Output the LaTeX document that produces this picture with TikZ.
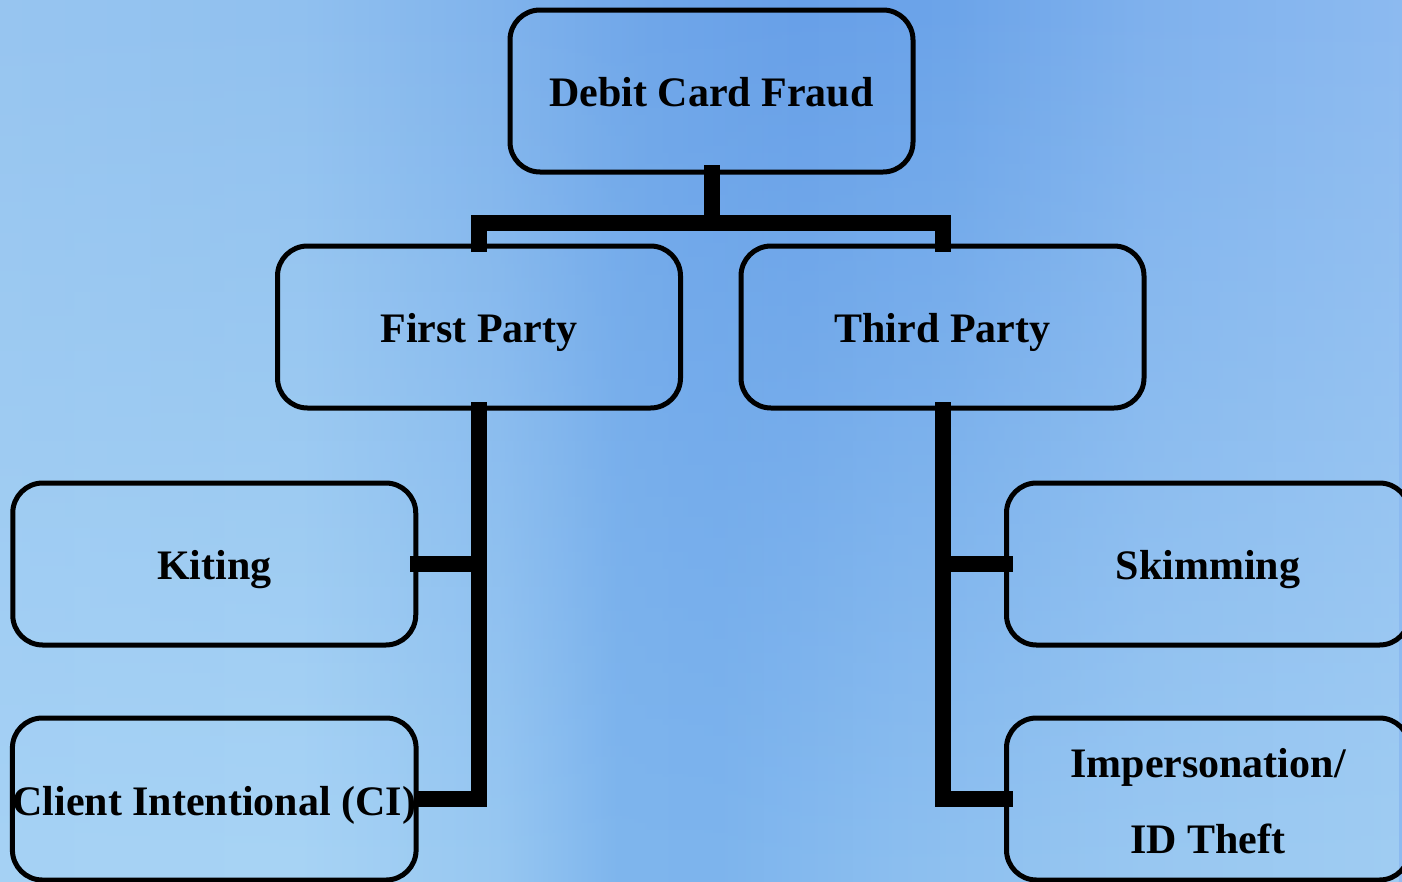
\documentclass[tikz,border=0pt]{standalone}
\usepackage{fontspec}
\setmainfont{Liberation Serif}
\usetikzlibrary{fadings}
\definecolor{tA}{HTML}{97C5F0}
\definecolor{tB}{HTML}{90C0EF}
\definecolor{tC}{HTML}{80B3EC}
\definecolor{tD}{HTML}{6FA6E9}
\definecolor{tE}{HTML}{68A0E8}
\definecolor{tF}{HTML}{6CA4E9}
\definecolor{tG}{HTML}{7FB1ED}
\definecolor{tH}{HTML}{8CBAF0}
\definecolor{bA}{HTML}{A6D2F5}
\definecolor{bB}{HTML}{A8D4F5}
\definecolor{bC}{HTML}{98C8F2}
\definecolor{bD}{HTML}{7FB6EE}
\definecolor{bE}{HTML}{7EB5EE}
\definecolor{bF}{HTML}{8CBFF0}
\definecolor{bG}{HTML}{99C8F2}
\definecolor{bH}{HTML}{A0CDF3}
\pgfdeclarehorizontalshading{bgtop}{100bp}{color(0bp)=(tA); color(25bp)=(tA); color(35.7bp)=(tB); color(42.8bp)=(tC); color(48.2bp)=(tD); color(53.5bp)=(tE); color(58.9bp)=(tF); color(66bp)=(tG); color(75bp)=(tH); color(100bp)=(tH)}
\pgfdeclarehorizontalshading{bgbot}{100bp}{color(0bp)=(bA); color(25bp)=(bA); color(35.7bp)=(bB); color(42.8bp)=(bC); color(47.1bp)=(bD); color(50.7bp)=(bE); color(57.1bp)=(bF); color(66bp)=(bG); color(75bp)=(bH); color(100bp)=(bH)}
\begin{document}
\begin{tikzpicture}[x=1pt,y=-1pt,
  box/.style={draw=black, line width=5pt, rounded corners=30pt,
    minimum width=403pt, minimum height=162pt, outer sep=0pt, inner sep=0pt,
    font=\fontsize{42}{76}\selectfont\bfseries, align=center},
  oneline/.style={text height=30pt, text depth=0pt},
  conn/.style={draw=black, line width=16pt, line join=miter, line cap=butt}]
\useasboundingbox (0,0) rectangle (1402,881);
\clip (0,0) rectangle (1402,881);
\shade[shading=bgtop] (0,0) rectangle (1402,881);
\shade[shading=bgbot, path fading=north] (0,0) rectangle (1402,881);
\coordinate (bar) at (0,223);
\node[box, oneline] (debit) at (711.5,91) {Debit Card Fraud};
\node[box, oneline] (fp) at (479,327) {First Party};
\node[box, oneline] (tp) at (942.5,327) {Third Party};
\node[box, oneline] (kit) at (214.25,564) {Kiting};
\node[box, text height=32pt, text depth=0pt] (ci) at (214.25,799) {Client Intentional (CI)};
\node[box, oneline] (skim) at (1208,564) {Skimming};
\node[box, text height=108pt, text depth=0pt] (imp) at (1208,799) {Impersonation/\\ID Theft};
\draw[conn] ([yshift=7pt]debit.south) -- (debit.south |- bar);
\draw[conn] ([yshift=-6pt]fp.north) -- (fp.north |- bar) -- (tp.north |- bar) -- ([yshift=-6pt]tp.north);
\draw[conn] ([yshift=6pt]fp.south) -- (fp.south |- ci.east) -- ([xshift=-2pt]ci.east);
\draw[conn] (fp.south |- kit.east) -- ([xshift=-6pt]kit.east);
\draw[conn] ([yshift=6pt]tp.south) -- (tp.south |- imp.west) -- ([xshift=6pt]imp.west);
\draw[conn] (tp.south |- skim.west) -- ([xshift=6pt]skim.west);
\end{tikzpicture}
\end{document}
